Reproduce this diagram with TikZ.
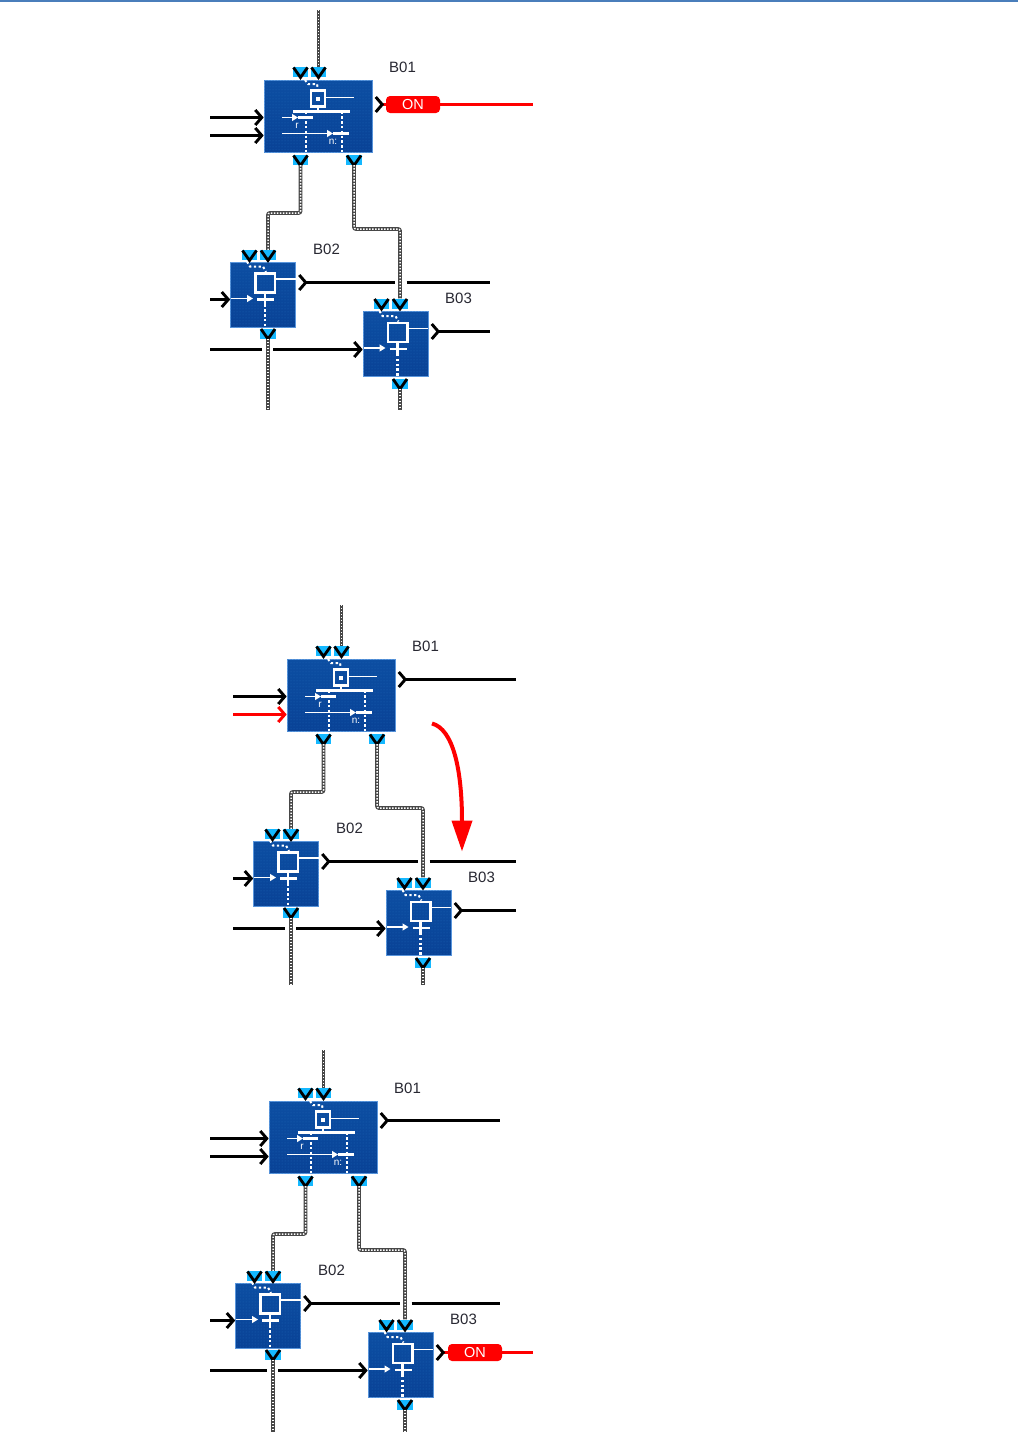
\documentclass[tikz,border=0pt]{standalone}
\usepackage{xcolor}
\usepackage{fontspec}
\setmainfont{Liberation Sans}
\usetikzlibrary{arrows.meta,calc,patterns}
\definecolor{rbBlue}   {RGB}{ 12, 78,162}
\definecolor{rbBlueD}  {RGB}{  9, 66,150}
\definecolor{rbDots}   {RGB}{ 30,100,180}
\definecolor{rbEdge}   {RGB}{ 90,150,220}
\definecolor{rbCyan}   {RGB}{ 20,184,255}
\definecolor{rbBar}    {RGB}{ 74,126,187}
\definecolor{rbText}   {RGB}{ 40, 40, 50}

\tikzset{
  x=1pt,y=-1pt,
  blockbox/.style={draw=rbEdge,line width=0.6pt,top color=rbBlue,bottom color=rbBlueD,
                   inner sep=0pt,postaction={pattern=dots,pattern color=rbDots}},
  bigblock/.style={blockbox,minimum width=108pt,minimum height=72pt},
  smallblock/.style={blockbox,minimum width=65pt,minimum height=65pt},
  vpin/.style={fill=rbCyan,inner sep=0pt,minimum width=15.5pt,minimum height=10pt},
  vee/.style={draw=black,line width=2.8pt},
  wire/.style={draw=black!72,line width=3.8pt,rounded corners=2pt,
               postaction={draw=white,line width=1.5pt,dash pattern=on 1.4pt off 1.6pt}},
  sig/.style={draw=black,line width=2.9pt,-{Straight Barb[length=6.5pt,width=15pt]}},
  sigout/.style={draw=black,line width=2.9pt,shorten <=2pt,
                 {Straight Barb[reversed,length=6.5pt,width=15pt,color=black]}-},
  plainsig/.style={draw=black,line width=2.9pt},
  lbl/.style={font=\fontsize{15}{17}\selectfont,text=rbText,inner sep=0pt},
  onpill/.style={fill=red,text=white,font=\fontsize{14.5}{16}\selectfont,rounded corners=4pt,
                 minimum width=54pt,minimum height=17pt,inner sep=0pt},
  inner/.style={draw=white,line width=1.4pt},
  innerb/.style={draw=white,line width=2.5pt},
  dotw/.style={draw=white,line width=2.4pt,dash pattern=on 2.4pt off 2.4pt},
  innerarr/.style={draw=white,line width=1.2pt,-{Triangle[length=6pt,width=7pt]}},
  bigsym/.pic={
    \draw[innerb] (-7,-26) rectangle (7,-10);
    \fill[white] (-2,-20) rectangle (2,-16);
    \draw[inner] (7,-19) -- (36,-19);
    \draw[innerb] (-25,-5) -- (32,-5);
    \draw[innerb] (0,-10) -- (0,-5);
    \draw[innerarr] (-36,1) -- (-20,1);
    \draw[innerb] (-20,1) -- (-5,1);
    \draw[innerarr] (-36,17) -- (15,17);
    \draw[innerb] (15,17) -- (31,17);
    \draw[dotw] (-12,-5) -- (-12,35.5);
    \draw[dotw] (24,-5) -- (24,35.5);
    \draw[dotw,line width=2pt] (-13,-36.5) -- (-10,-32.5) -- (-1,-32.5) -- (0,-27);
    \node[text=white,font=\fontsize{10}{10}\selectfont,inner sep=0pt] at (-21,9) {r};
    \node[text=white,font=\fontsize{10}{10}\selectfont,inner sep=0pt] at (15,25) {n:};
  },
  smallsym/.pic={
    \draw[innerb] (-7.3,-21) rectangle (12,-2);
    \draw[inner] (12,-15.5) -- (32.5,-15.5);
    \draw[innerarr] (-32,4) -- (-10,4);
    \draw[innerb] (-6,4.8) -- (11,4.8);
    \draw[innerb] (2,-2) -- (2,10);
    \draw[dotw] (2,10) -- (2,32.5);
    \draw[dotw,line width=2pt] (-16,-33) -- (-13,-28) -- (0,-28) -- (3,-22.5);
  }
}

% the three blocks with their pins and wires: left end, top end, bottom end, right end, 2nd input colour
\newcommand{\threeblocks}[5]{
  \node[bigblock] (bA) at (318,116.5) {};
  \node[smallblock] (bB) at (263,294.5) {};
  \node[smallblock] (bC) at (395.5,344) {};
  \pic at (bA.center) {bigsym};
  \pic at (bB.center) {smallsym};
  \pic at (bC.center) {smallsym};
  \node[lbl] (lA) at (402.5,67) {B01};
  \node[lbl] (lB) at (326.5,249) {B02};
  \node[lbl] (lC) at (458.5,298.5) {B03};
  \foreach \p/\x/\y in {pA1/300.5/72,pA2/318.5/72,pA3/300.5/160,pA4/354/160,
                        pB1/249.5/255,pB2/268/255,pB3/268/333.5,
                        pC1/381.5/303.5,pC2/400/303.5,pC3/400/383.5}{
    \node[vpin] (\p) at (\x,\y) {};
    \draw[vee] (\x-7,\y-4.5) -- (\x,\y+5.5) -- (\x+7,\y-4.5);
  }
  \coordinate (wTop) at (318.5,#2);
  \coordinate (wA) at (284,213);
  \coordinate (wB) at (378,229);
  \coordinate (wBotB) at (268,#3);
  \coordinate (wBotC) at (400,#3);
  \draw[wire] (wTop) -- (pA2.north);
  \draw[wire] (pA3.south) |- (wA) -| (pB2.north);
  \draw[wire] (pA4.south) |- (wB) -| (pC2.north);
  \draw[wire] (pB3.south) -- (wBotB);
  \draw[wire] (pC3.south) -- (wBotC);
  % inputs
  \coordinate (inA1) at (#1,117.5);
  \coordinate (inA2) at (#1,135.5);
  \coordinate (inB) at (#1,299.5);
  \coordinate (inC) at (#1,349.5);
  \coordinate (gapCl) at (262,349.5);
  \coordinate (gapCr) at (273,349.5);
  \draw[sig] (inA1) -- (inA1 -| bA.west);
  \draw[sig,draw=#5] (inA2) -- (inA2 -| bA.west);
  \draw[sig] (inB) -- (inB -| bB.west);
  \draw[plainsig] (inC) -- (gapCl);
  \draw[sig] (gapCr) -- (gapCr -| bC.west);
  % output of B02, cut by the wire
  \coordinate (outB) at (#4,282.5);
  \coordinate (gapBl) at (395,282.5);
  \coordinate (gapBr) at (406.5,282.5);
  \draw[sigout] (outB -| bB.east) -- (gapBl);
  \draw[plainsig] (gapBr) -- (outB);
}

\begin{document}
\begin{tikzpicture}
\useasboundingbox (0,0) rectangle (1018,1437);
\fill[white] (0,0) rectangle (1018,1437);
\fill[rbBar] (0,0) rectangle (1018,2);

% first state
\begin{scope}[name prefix=s1-]
  \threeblocks{210}{10}{410}{489.5}{black}
  \coordinate (outA) at (533,104.5);
  \coordinate (outC) at (489.5,331.5);
  \draw[sigout,draw=red] (outA -| bA.east) -- (outA);
  \node[onpill] (on) at (413,104.5) {ON};
  \draw[sigout] (outC -| bC.east) -- (outC);
\end{scope}

% second state
\begin{scope}[shift={(23,579)},name prefix=s2-]
  \threeblocks{210}{26}{406}{493}{red}
  \coordinate (outA) at (493,100.5);
  \coordinate (outC) at (493,331.5);
  \draw[sigout] (outA -| bA.east) -- (outA);
  \draw[sigout] (outC -| bC.east) -- (outC);
  \coordinate (arS) at (409,144.5);
  \coordinate (arE) at (439,272.5);
  \draw[draw=red,line width=4pt,-{Triangle[length=31pt,width=20pt]}]
    (arS) .. controls (430,150) and (439,190) .. (arE);
\end{scope}

% third state
\begin{scope}[shift={(5,1021)},name prefix=s3-]
  \threeblocks{205}{29}{410.5}{495}{black}
  \coordinate (outA) at (495,99.5);
  \coordinate (outC) at (528,331.5);
  \draw[sigout] (outA -| bA.east) -- (outA);
  \draw[sigout,draw=red] (outC -| bC.east) -- (outC);
  \node[onpill] (on) at (470,331.5) {ON};
\end{scope}
\end{tikzpicture}
\end{document}
